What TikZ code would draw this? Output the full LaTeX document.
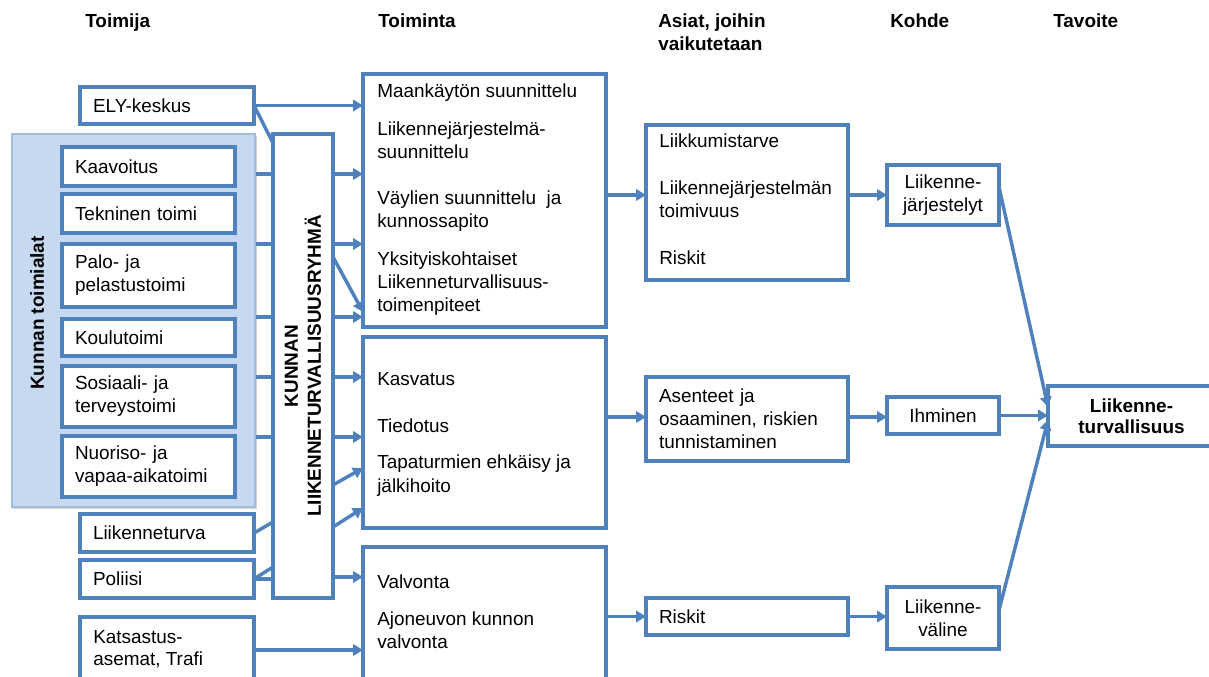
\documentclass[tikz,border=0pt]{standalone}
\usepackage{fontspec}
\setmainfont{Liberation Sans}
\usetikzlibrary{arrows.meta,shadows,calc}
\definecolor{bl}{HTML}{4F81BD}
\definecolor{bgfill}{HTML}{C6D9F1}
\definecolor{bgline}{HTML}{A2BCDC}
\newcommand\dtxt{\fontsize{14.2pt}{17.25pt}\selectfont}
\newcommand\htxt{\fontsize{14.2pt}{17.25pt}\selectfont\bfseries}
\newcommand\ttxt{\fontsize{14.2pt}{15.75pt}\selectfont\bfseries}
\tikzset{
  px/.style 2 args={minimum width=#1*0.75pt, minimum height=#2*0.75pt},
  box/.style={draw=bl, line width=2.8pt, fill=white, inner sep=0pt, outer sep=0pt, font=\dtxt},
  lbox/.style n args={3}{box, px={#1}{#2}, text width=#3*0.75pt, align=left},
  cbox/.style 2 args={box, px={#1}{#2}, align=center},
  tx/.style={anchor=base west, inner sep=0pt, font=\dtxt},
  hdr/.style={anchor=base west, inner sep=0pt, font=\htxt},
  bgbox/.style={fill=bgfill, draw=bgline, line width=0.8pt, inner sep=0pt,
    drop shadow={shadow xshift=1.5pt, shadow yshift=-1.5pt, opacity=0.35}},
  con/.style={draw=bl, line width=2.6pt},
  arr/.style={con, -{Triangle[length=7.5pt,width=8.5pt]}},
}
\begin{document}
\begin{tikzpicture}[x=0.75pt,y=-0.75pt]
\useasboundingbox (0,0) rectangle (1209,677);
% headers
\node[hdr] (h1) at (85,28) {Toimija};
\node[hdr] (h2) at (378,28) {Toiminta};
\node[hdr] (h3a) at (658,28) {Asiat, joihin};
\node[hdr] (h3b) at (658,51) {vaikutetaan};
\node[hdr] (h4) at (890,28) {Kohde};
\node[hdr] (h5) at (1053,28) {Tavoite};
% group background
\node[bgbox, px={243}{373}] (bg) at (133.5,320.5) {};
\node[rotate=90, font=\htxt] (bgt) at (37,313) {Kunnan toimialat};
% actors
\node[lbox={174}{37}{148}] (ely) at (167,105.5) {ELY-keskus};
\node[lbox={173}{39}{147}] (kaav) at (148.5,166.5) {Kaavoitus};
\node[lbox={173}{39}{147}] (tekn) at (148.5,213.5) {Tekninen toimi};
\node[lbox={173}{63}{147}] (palo) at (148.5,275.5) {Palo- ja\\pelastustoimi};
\node[lbox={173}{37}{147}] (koulu) at (148.5,337.5) {Koulutoimi};
\node[lbox={173}{61}{147}] (sos) at (148.5,396.5) {Sosiaali- ja\\terveystoimi};
\node[lbox={173}{61}{147}] (nuor) at (148.5,466.5) {Nuoriso- ja\\vapaa-aikatoimi};
\node[lbox={174}{38}{148}] (lt) at (167,533) {Liikenneturva};
\node[lbox={174}{38}{148}] (pol) at (167,579) {Poliisi};
\node[box, px={174}{73}] (kats) at (167,653.5) {};
\node[tx] (katsa) at (93,643) {Katsastus-};
\node[tx] (katsb) at (93,665) {asemat, Trafi};
% group
\node[box, px={60}{464}] (grp) at (303,366) {};
\node[rotate=90, align=center, font=\htxt] (grpt) at (grp) {KUNNAN\\LIIKENNETURVALLISUUSRYHMÄ};
% actions
\node[box, px={243}{253}] (t1) at (484.5,200.5) {};
\node[tx] (t1a) at (377,98) {Maankäytön suunnittelu};
\node[tx] (t1b) at (377,136) {Liikennejärjestelmä-};
\node[tx] (t1c) at (377,159) {suunnittelu};
\node[tx] (t1d) at (377,205) {Väylien suunnittelu\ \ ja};
\node[tx] (t1e) at (377,228) {kunnossapito};
\node[tx] (t1f) at (377,265) {Yksityiskohtaiset};
\node[tx] (t1g) at (377,288) {Liikenneturvallisuus-};
\node[tx] (t1h) at (377,311) {toimenpiteet};
\node[box, px={243}{191}] (t2) at (484.5,432.5) {};
\node[tx] (t2a) at (377,385) {Kasvatus};
\node[tx] (t2b) at (377,432) {Tiedotus};
\node[tx] (t2c) at (377,468) {Tapaturmien ehkäisy ja};
\node[tx] (t2d) at (377,492) {jälkihoito};
\node[box, px={243}{153}] (t3) at (484.5,623.5) {};
\node[tx] (t3a) at (377,588) {Valvonta};
\node[tx] (t3b) at (377,625) {Ajoneuvon kunnon};
\node[tx] (t3c) at (377,648) {valvonta};
% issues
\node[box, px={202}{155}] (a1) at (747,202.5) {};
\node[tx] (a1a) at (659,148) {Liikkumistarve};
\node[tx] (a1b) at (659,195) {Liikennejärjestelmän};
\node[tx] (a1c) at (659,218) {toimivuus};
\node[tx] (a1d) at (659,264) {Riskit};
\node[lbox={202}{84}{176}] (a2) at (747,419) {Asenteet ja\\osaaminen, riskien\\tunnistaminen};
\node[lbox={202}{37}{176}] (a3) at (747,616.5) {Riskit};
% targets
\node[cbox={112}{60}] (k1) at (943,195) {Liikenne-\\järjestelyt};
\node[cbox={112}{37}] (k2) at (943,415.5) {Ihminen};
\node[cbox={112}{62}] (k3) at (943,618) {Liikenne-\\väline};
\node[box, px={167}{60}, align=center, font=\ttxt] (tav) at (1131.5,416) {Liikenne-\\turvallisuus};
% connectors: actors -> group
\draw[arr] (ely.east) -- (ely.east -| t1.west);
\draw[con] (ely.east) -- ($(grp.north west)+(0,9)$);
\foreach \yy in {174,244,317,377,437} {
  \draw[con] (bg.east |- 0,\yy) -- (grp.west |- 0,\yy);
}
\draw[con] (lt.east) -- ($(grp.north west)+(0,388)$);
\draw[con] (pol.east) -- ($(grp.north west)+(0,433)$);
\draw[con] (pol.east) -- (pol.east -| grp.west);
% group -> actions
\foreach \yy in {174,244,317} {
  \draw[arr] (grp.east |- 0,\yy) -- (t1.west |- 0,\yy);
}
\draw[arr] ($(grp.north east)+(0,123)$) -- ($(t1.south west)+(0,-15)$);
\foreach \yy in {377,437} {
  \draw[arr] (grp.east |- 0,\yy) -- (t2.west |- 0,\yy);
}
\draw[arr] ($(grp.north east)+(0,351)$) -- ($(t2.north west)+(0,131)$);
\draw[arr] ($(grp.north east)+(0,393)$) -- ($(t2.north west)+(0,171)$);
\draw[arr] (grp.east |- 0,577) -- (t3.west |- 0,577);
\draw[arr] (kats.east |- 0,650) -- (t3.west |- 0,650);
% actions -> issues -> targets
\draw[arr] (t1.east |- k1) -- (a1.west |- k1);
\draw[arr] (a1.east |- k1) -- (k1.west);
\draw[arr] (t2.east |- 0,417) -- (a2.west |- 0,417);
\draw[arr] (a2.east |- 0,417) -- (k2.west |- 0,417);
\draw[arr] (t3.east |- a3) -- (a3.west);
\draw[arr] (a3.east) -- (k3.west |- a3);
% targets -> goal
\draw[arr] ($(k1.north east)+(0,22)$) -- ($(tav.north west)+(0,21)$);
\draw[arr] (k2.east) -- (k2.east -| tav.west);
\draw[arr] ($(k3.north east)+(0,23)$) -- ($(tav.north west)+(0,34)$);
\end{tikzpicture}
\end{document}
